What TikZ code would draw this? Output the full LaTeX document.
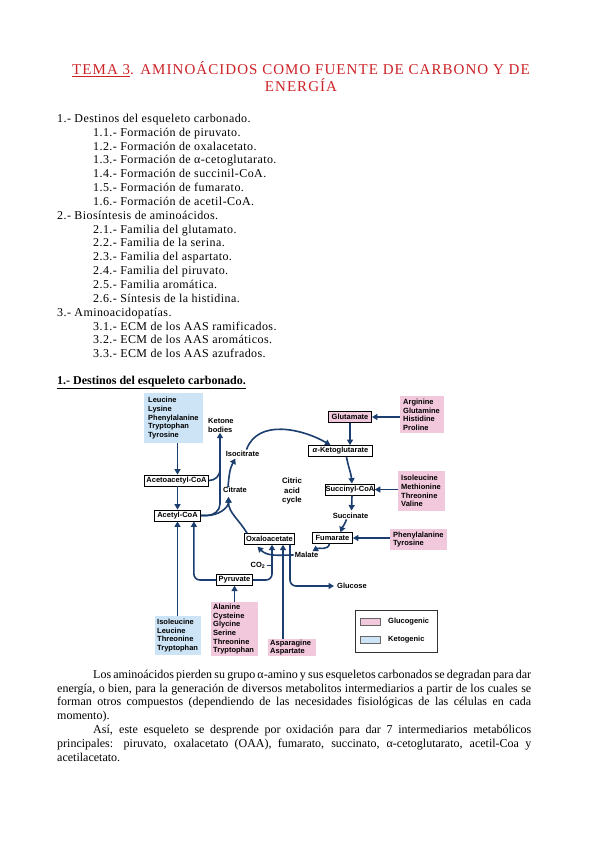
\documentclass[tikz,border=0pt]{standalone}
\usepackage{fontspec}
\setmainfont{Liberation Serif}
\newfontfamily\listfont{Liberation Serif}[LetterSpace=3.5]
\newfontfamily\titlefont{Liberation Serif}[LetterSpace=7]
\newfontfamily\dfont{Liberation Sans}
\usetikzlibrary{arrows.meta}
\definecolor{titlered}{RGB}{205,35,40}
\definecolor{pinkfill}{RGB}{242,200,220}
\definecolor{bluefill}{RGB}{204,228,245}
\definecolor{navy}{RGB}{27,62,111}
\begin{document}
\begin{tikzpicture}[x=1pt,y=1pt,
  lst/.style={anchor=base west, inner sep=0pt, font=\listfont\fontsize{12}{13.8}\selectfont},
  par/.style={anchor=base west, inner sep=0pt, font=\fontsize{12}{13.8}\selectfont},
  mbox/.style={draw=black, line width=0.8pt, fill=white, inner sep=0pt, font=\dfont\bfseries\fontsize{7.5}{8.7}\selectfont},
  lbl/.style={inner sep=0pt, font=\dfont\bfseries\fontsize{7.5}{8.7}\selectfont},
  aabox/.style={anchor=north west, inner ysep=0pt, align=left, font=\dfont\bfseries\fontsize{7.5}{8.7}\selectfont},
  conn/.style={draw=navy, line width=1.6pt},
  arr/.style={conn, -{Triangle[length=5.5pt,width=6pt]}},
]
\useasboundingbox (0,0) rectangle (599,-848);
\fill[white] (0,0) rectangle (599,-848);

% title
\node[anchor=base, inner sep=0pt, text=titlered, font=\titlefont\fontsize{15}{17}\selectfont] (t1) at (301,-75) {\underline{TEMA 3}. AMINOÁCIDOS COMO FUENTE DE CARBONO Y DE};
\node[anchor=base, inner sep=0pt, text=titlered, font=\titlefont\fontsize{15}{17}\selectfont] (t2) at (301,-91.7) {ENERGÍA};

% index
\node[lst] (l1) at (57,-122.3) {1.- Destinos del esqueleto carbonado.};
\node[lst] (l2) at (93,-136.15) {1.1.- Formación de piruvato.};
\node[lst] (l3) at (93,-150.0) {1.2.- Formación de oxalacetato.};
\node[lst] (l4) at (93,-163.85) {1.3.- Formación de α-cetoglutarato.};
\node[lst] (l5) at (93,-177.7) {1.4.- Formación de succinil-CoA.};
\node[lst] (l6) at (93,-191.55) {1.5.- Formación de fumarato.};
\node[lst] (l7) at (93,-205.4) {1.6.- Formación de acetil-CoA.};
\node[lst] (l8) at (57,-219.25) {2.- Biosíntesis de aminoácidos.};
\node[lst] (l9) at (93,-233.1) {2.1.- Familia del glutamato.};
\node[lst] (l10) at (93,-246.95) {2.2.- Familia de la serina.};
\node[lst] (l11) at (93,-260.8) {2.3.- Familia del aspartato.};
\node[lst] (l12) at (93,-274.65) {2.4.- Familia del piruvato.};
\node[lst] (l13) at (93,-288.5) {2.5.- Familia aromática.};
\node[lst] (l14) at (93,-302.35) {2.6.- Síntesis de la histidina.};
\node[lst] (l15) at (57,-316.2) {3.- Aminoacidopatías.};
\node[lst] (l16) at (93,-330.05) {3.1.- ECM de los AAS ramificados.};
\node[lst] (l17) at (93,-343.9) {3.2.- ECM de los AAS aromáticos.};
\node[lst] (l18) at (93,-357.75) {3.3.- ECM de los AAS azufrados.};

% heading
\node[par, font=\bfseries\fontsize{12}{13.8}\selectfont] (h1) at (57,-384.3) {\underline{1.- Destinos del esqueleto carbonado.}};

% ---------- diagram nodes ----------
\node[aabox, fill=bluefill, text width=51pt, inner xsep=4pt, minimum height=50pt] (kb1) at (144,-393) {Leucine\\Lysine\\Phenylalanine\\Tryptophan\\Tyrosine};
\node[lbl, align=left, anchor=west] (ket) at (208,-425.5) {Ketone\\bodies};
\node[mbox, minimum width=64pt, minimum height=11pt] (acac) at (176.5,-480.5) {Acetoacetyl-CoA};
\node[mbox, minimum width=46pt, minimum height=11pt] (acoa) at (177.5,-515.5) {Acetyl-CoA};
\node[lbl] (iso) at (242.5,-453.5) {Isocitrate};
\node[lbl] (cit) at (235,-490) {Citrate};
\node[lbl, align=center, font=\dfont\bfseries\fontsize{7.8}{9.5}\selectfont] (tca) at (292,-491) {Citric\\acid\\cycle};
\node[mbox, fill=pinkfill, minimum width=43pt, minimum height=10.5pt] (glu) at (350,-417) {Glutamate};
\node[aabox, fill=pinkfill, text width=38pt, inner xsep=3pt, minimum height=37pt] (pk1) at (400,-396) {Arginine\\Glutamine\\Histidine\\Proline};
\node[mbox, minimum width=64pt, minimum height=11pt] (akg) at (340.5,-451) {\textit{α}-Ketoglutarate};
\node[mbox, minimum width=48pt, minimum height=11pt] (suc) at (350,-489.5) {Succinyl-CoA};
\node[aabox, fill=pinkfill, text width=41pt, inner xsep=3pt, minimum height=40pt] (pk2) at (398,-471) {Isoleucine\\Methionine\\Threonine\\Valine};
\node[lbl] (sct) at (350.5,-515.5) {Succinate};
\node[mbox, minimum width=40pt, minimum height=10.5pt] (fum) at (332.5,-538) {Fumarate};
\node[aabox, fill=pinkfill, text width=51pt, inner xsep=3pt, minimum height=21pt] (pk3) at (390,-529) {Phenylalanine\\Tyrosine};
\node[lbl] (mal) at (306.5,-555) {Malate};
\node[mbox, minimum width=50pt, minimum height=10.5pt] (oaa) at (269.5,-539) {Oxaloacetate};
\node[lbl] (co2) at (258,-565.5) {CO\textsubscript{2}};
\node[mbox, minimum width=36pt, minimum height=10.5pt] (pyr) at (234.5,-580) {Pyruvate};
\node[lbl, anchor=west] (glc) at (337,-586) {Glucose};
\node[aabox, fill=bluefill, text width=42pt, inner xsep=2pt, minimum height=39pt] (kb2) at (155,-616) {Isoleucine\\Leucine\\Threonine\\Tryptophan};
\node[aabox, fill=pinkfill, text width=43pt, inner xsep=2pt, minimum height=54pt] (pk4) at (211,-602) {Alanine\\Cysteine\\Glycine\\Serine\\Threonine\\Tryptophan};
\node[aabox, fill=pinkfill, text width=44pt, inner xsep=2pt, minimum height=17pt] (pk5) at (268,-639) {Asparagine\\Aspartate};

% legend
\node[draw=black!80, line width=0.6pt, minimum width=82pt, minimum height=42pt, anchor=north west, inner sep=0pt] (leg) at (355,-610) {};
\node[draw=black!60, line width=0.4pt, fill=pinkfill, minimum width=20pt, minimum height=7pt, inner sep=0pt, anchor=north west] (swg) at (360,-618) {};
\node[draw=black!60, line width=0.4pt, fill=bluefill, minimum width=20pt, minimum height=7pt, inner sep=0pt, anchor=north west] (swk) at (360,-636) {};
\node[lbl, anchor=west, font=\dfont\bfseries\fontsize{7.5}{9}\selectfont] (lg) at (388,-621.5) {Glucogenic};
\node[lbl, anchor=west, font=\dfont\bfseries\fontsize{7.5}{9}\selectfont] (lk) at (388,-639.5) {Ketogenic};

% ---------- connectors ----------
\coordinate (kx) at (220,-504);
\coordinate (km) at (220,-470);
\coordinate (ct) at (228.5,-497);
\draw[arr] (kb1.south -| acoa.north) -- (acac.north -| acoa.north);
\draw[arr] (acac.south -| acoa.north) -- (acoa.north);
\draw[arr] (kb2.north -| acoa.south) -- (acoa.south);
\draw[arr] (acoa.east) -- ++(6,0) to[out=0,in=-90] (kx) -- (kx |- ket.south);
\draw[conn] (acac.east) to[out=0,in=-90] (km);
\draw[arr] (acoa.east) -- ++(6,0) to[out=0,in=-90] (ct);
\draw[arr] ([xshift=3pt]oaa.north west) to[out=120,in=-90] (ct);
\draw[arr] ([xshift=-7pt]cit.north) to[out=85,in=-120] ([xshift=-7pt,yshift=-2pt]iso.south);
\draw[arr] ([xshift=4pt,yshift=1pt]iso.north) to[out=70,in=150] ([xshift=-10pt]akg.north);
\draw[arr] (glu.south) -- (akg.north -| glu.south);
\draw[arr] (pk1.west |- glu.east) -- (glu.east);
\draw[arr] ([xshift=6pt]akg.south) to[out=-80,in=95] ([xshift=2pt]suc.north);
\draw[arr] (pk2.west |- suc.east) -- (suc.east);
\draw[arr] ([xshift=2pt]suc.south) -- ([xshift=1pt,yshift=2pt]sct.north);
\draw[arr] ([xshift=-4pt,yshift=-1pt]sct.south) to[out=-110,in=70] ([xshift=8pt]fum.north);
\draw[arr] (pk3.west |- fum.east) -- (fum.east);
\draw[arr] ([xshift=-3pt]fum.south) to[out=-100,in=30] ([xshift=6pt,yshift=1pt]mal.north);
\draw[arr] ([xshift=-1pt]mal.west) to[out=180,in=-45] ([xshift=-12pt,yshift=-2pt]oaa.south);
\draw[arr, rounded corners=6pt] (pyr.west) -| ([xshift=-7pt]acoa.south east);
\draw[arr, rounded corners=6pt] (pyr.east) -| ([xshift=2.5pt]oaa.south);
\draw[conn, line width=1.1pt] ([xshift=1pt]co2.east) -- ([xshift=2.5pt]oaa.south |- co2.east);
\draw[arr] ([xshift=13.5pt]oaa.south |- pk5.north) -- ([xshift=13.5pt]oaa.south);
\draw[arr, rounded corners=6pt] ([xshift=20.5pt]oaa.south) |- ([xshift=-3pt]glc.west);
\draw[arr] (pk4.north -| pyr.south) -- (pyr.south);

% ---------- paragraph ----------
\node[par] (p1) at (93,-678.3) {\makebox[438pt][s]{Los aminoácidos pierden su grupo α-amino y sus esqueletos carbonados se degradan para dar}};
\node[par] (p2) at (57,-692.1) {\makebox[474pt][s]{energía, o bien, para la generación de diversos metabolitos intermediarios a partir de los cuales se}};
\node[par] (p3) at (57,-705.9) {\makebox[474pt][s]{forman otros compuestos (dependiendo de las necesidades fisiológicas de las células en cada}};
\node[par] (p4) at (57,-719.7) {momento).};
\node[par] (p5) at (93,-733.5) {\makebox[438pt][s]{Así, este esqueleto se desprende por oxidación para dar 7 intermediarios metabólicos}};
\node[par] (p6) at (57,-747.3) {\makebox[474pt][s]{principales: piruvato, oxalacetato (OAA), fumarato, succinato, α-cetoglutarato, acetil-Coa y}};
\node[par] (p7) at (57,-761.1) {acetilacetato.};
\end{tikzpicture}
\end{document}
